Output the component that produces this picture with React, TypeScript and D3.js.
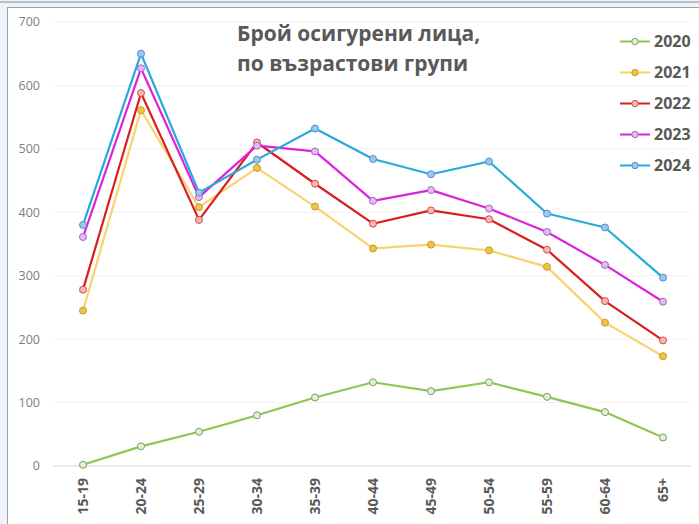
import React from "react";
import * as d3 from "d3";

const categories = ["15-19", "20-24", "25-29", "30-34", "35-39", "40-44", "45-49", "50-54", "55-59", "60-64", "65+"];
const years = ["2020", "2021", "2022", "2023", "2024"];
const v2020 = [2, 31, 54, 80, 108, 132, 118, 132, 109, 85, 45];
const v2021 = [245, 561, 408, 470, 409, 343, 349, 340, 314, 226, 173];
const v2022 = [278, 588, 388, 510, 445, 382, 403, 389, 341, 260, 198];
const v2023 = [361, 627, 424, 505, 496, 418, 435, 406, 369, 317, 259];
const v2024 = [380, 650, 431, 483, 532, 484, 460, 480, 398, 376, 297];
const yTicks = [0, 100, 200, 300, 400, 500, 600, 700];
const titleLines = ["Брой осигурени лица,", "по възрастови групи"];

const seriesValues = [v2020, v2021, v2022, v2023, v2024];
const lineColors = ["#8cc653", "#f7d46e", "#d81e1e", "#dd22dd", "#26aad9"];
const markerFill = ["#e2f0d6", "#f5c242", "#f6b7b0", "#ebb8ec", "#9ec5ec"];
const markerStroke = ["#7f9a6a", "#c09a30", "#d84a4a", "#9a6ac8", "#4f8fd0"];

export default function App() {
  const W = 699, H = 524;
  const x = d3.scalePoint<string>().domain(categories).range([83, 663]);
  const y = d3.scaleLinear().domain([0, 700]).range([466, 22]);
  const line = d3.line<number>().x((_, i) => x(categories[i])!).y((d) => y(d));
  const font = "'Open Sans', 'DejaVu Sans', sans-serif";
  return (
    <svg width={W} height={H} style={{ position: "absolute", left: 0, top: 0, display: "block" }} fontFamily={font}>
      <rect x={0} y={0} width={W} height={H} fill="#eef3f9" />
      <line x1={0} x2={W} y1={2} y2={2} stroke="#8a8f96" strokeWidth={1} />
      <rect x={7.5} y={7.5} width={W} height={H} fill="#ffffff" stroke="#9aa0a8" strokeWidth={1} />
      {yTicks.map((t) => (
        <g key={t}>
          <line x1={53} x2={691} y1={y(t)} y2={y(t)} stroke={t === 0 ? "#d9d9d9" : "#f1f1f1"} strokeWidth={1} />
          <text x={40} y={y(t)} dy="0.35em" textAnchor="end" fontSize={12.5} fill="#808080">{t}</text>
        </g>
      ))}
      {categories.map((c) => (
        <text key={c} transform={`translate(${x(c)! + 5},478) rotate(-90)`} textAnchor="end" fontSize={14} fontWeight="bold" fill="#595959">{c}</text>
      ))}
      {seriesValues.map((vals, si) => (
        <g key={years[si]}>
          <path d={line(vals)!} fill="none" stroke={lineColors[si]} strokeWidth={2.2} strokeLinejoin="round" />
          {vals.map((v, i) => (
            <circle key={i} cx={x(categories[i])} cy={y(v)} r={3.5} fill={markerFill[si]} stroke={markerStroke[si]} strokeWidth={1} />
          ))}
        </g>
      ))}
      {titleLines.map((t, i) => (
        <text key={t} x={237} y={41 + i * 30} fontSize={21} fontWeight="bold" fill="#595959">{t}</text>
      ))}
      {years.map((yr, i) => {
        const ly = 41.5 + i * 31;
        return (
          <g key={yr}>
            <line x1={620} x2={650} y1={ly} y2={ly} stroke={lineColors[i]} strokeWidth={2} />
            <circle cx={635} cy={ly} r={3.2} fill={markerFill[i]} stroke={markerStroke[i]} strokeWidth={1} />
            <text x={654} y={ly} dy="0.36em" fontSize={16} fontWeight="bold" fill="#595959">{yr}</text>
          </g>
        );
      })}
    </svg>
  );
}
